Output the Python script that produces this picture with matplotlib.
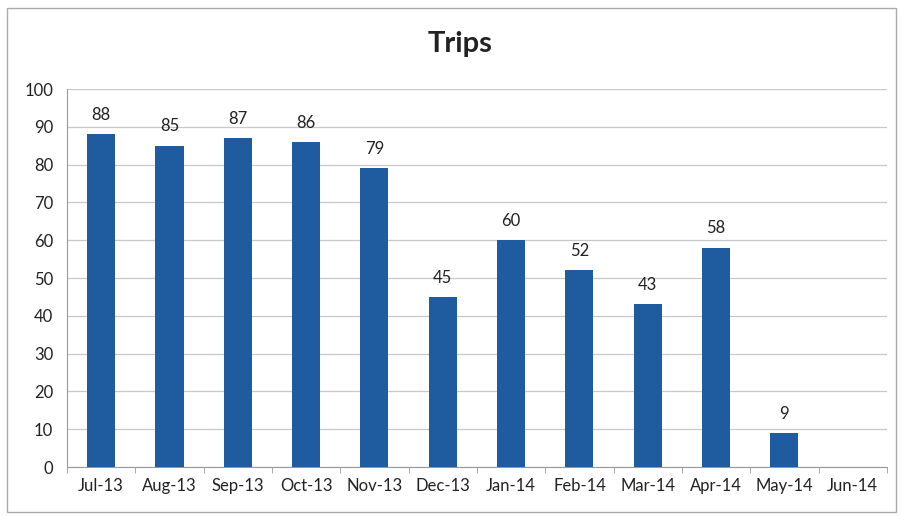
import matplotlib.pyplot as plt
import numpy as np

plt.rcParams['font.family'] = ['Lato', 'DejaVu Sans']

months = ['Jul-13', 'Aug-13', 'Sep-13', 'Oct-13', 'Nov-13', 'Dec-13',
          'Jan-14', 'Feb-14', 'Mar-14', 'Apr-14', 'May-14', 'Jun-14']
trips = [88, 85, 87, 86, 79, 45, 60, 52, 43, 58, 9, None]

fig = plt.figure(figsize=(9.03, 5.17), dpi=100)
fig.patch.set_facecolor('white')
ax = fig.add_axes([0.0742, 0.0967, 0.908, 0.731])

x = np.arange(len(months))
vals = [v if v is not None else 0 for v in trips]
bars = ax.bar(x, vals, width=0.41, color='#1f5c9f', zorder=3)

for xi, v in zip(x, trips):
    if v is None:
        continue
    ax.text(xi, v + 3, str(v), ha='center', va='bottom', fontsize=12, color='#222222')

ax.set_xlim(-0.5, len(months) - 0.5)
ax.set_ylim(0, 100)
ax.set_yticks(range(0, 101, 10))
ax.set_xticks(x)
ax.set_xticklabels(months)
ax.tick_params(axis='both', labelsize=12, colors='#222222', length=0, pad=8)
ax.tick_params(axis='y', pad=10)
ax.set_xticks(np.arange(-0.5, len(months)), minor=True)
ax.tick_params(axis='x', which='minor', length=4, color='#999999')
ax.grid(axis='y', color='#c8c8c8', linewidth=0.9, zorder=0)

for s in ['top', 'right']:
    ax.spines[s].set_visible(False)
for s in ['left', 'bottom']:
    ax.spines[s].set_color('#999999')

fig.text(0.51, 0.915, 'Trips', ha='center', va='center', fontsize=21, fontweight='bold', color='#222222')

border = plt.Rectangle((0.008, 0.01), 0.984, 0.975, transform=fig.transFigure,
                       fill=False, edgecolor='#aaaaaa', linewidth=1.0)
fig.patches.append(border)

fig.savefig('out.png', dpi=100)
